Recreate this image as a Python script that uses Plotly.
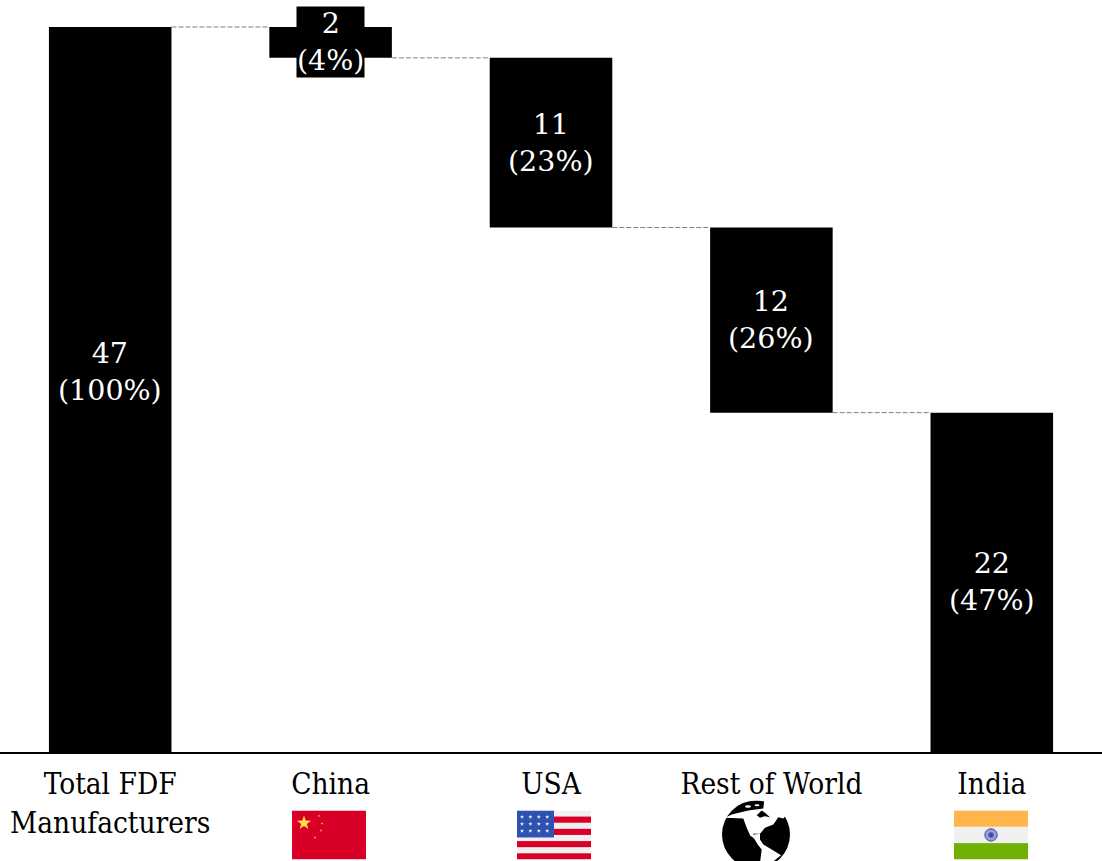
import base64
import math
import plotly.graph_objects as go

# Data
categories = ["Total FDF<br>Manufacturers", "China", "USA", "Rest of World", "India"]
values = [47, 2, 11, 12, 22]
shares = [100, 4, 23, 26, 47]
total = values[0]

# Hanging positions derived from the data
bases = [0]
running = total
for v in values[1:]:
    running -= v
    bases.append(running)
tops = [b + v for b, v in zip(bases, values)]
positions = list(range(len(categories)))
BAR_W = 0.556
TICK_FONT = "DejaVu Serif Condensed, DejaVu Serif"
LABEL_FONT = "DejaVu Serif"


def uri(svg):
    return "data:image/svg+xml;base64," + base64.b64encode(svg.encode()).decode()


def star(cx, cy, r, fill):
    pts = []
    for i in range(10):
        a = -math.pi / 2 + i * math.pi / 5
        rr = r if i % 2 == 0 else r * 0.4
        pts.append(f"{cx + rr * math.cos(a):.2f},{cy + rr * math.sin(a):.2f}")
    return f'<polygon points="{" ".join(pts)}" fill="{fill}"/>'


china = ('<svg xmlns="http://www.w3.org/2000/svg" width="74" height="49" viewBox="0 0 74 49">'
         '<rect width="74" height="49" fill="#d80027"/>'
         + star(12, 12.5, 7.5, "#ffda44") + star(27, 5.5, 1.3, "#ffda44") + star(30, 13, 1.3, "#ffda44")
         + star(29, 20, 1.3, "#ffda44") + star(23, 27, 1.3, "#ffda44") + '</svg>')

usa_parts = ['<svg xmlns="http://www.w3.org/2000/svg" width="74" height="49" viewBox="0 0 74 49">',
             '<rect width="74" height="49" fill="#f0f0f0"/>']
for i in range(1, 8, 2):
    usa_parts.append(f'<rect y="{i * 6.125:.2f}" width="74" height="6.125" fill="#d80027"/>')
usa_parts.append('<rect width="37" height="27" fill="#2e52b2"/>')
for r in range(3):
    for c in range(4):
        usa_parts.append(star(5 + c * 8.4, 6.5 + r * 7, 2.2, "#f0f0f0"))
usa_parts.append('</svg>')
usa = "".join(usa_parts)

india = ('<svg xmlns="http://www.w3.org/2000/svg" width="74" height="49" viewBox="0 0 74 49">'
         '<rect width="74" height="49" fill="#f0f0f0"/>'
         '<rect width="74" height="16.3" fill="#ffb549"/>'
         '<rect y="32.7" width="74" height="16.3" fill="#6fb000"/>'
         '<circle cx="37" cy="24.5" r="6.2" fill="#9a9ad8" stroke="#3f4fa0" stroke-width="1"/>'
         '<circle cx="37" cy="24.5" r="2.6" fill="#3f4fa0"/></svg>')

globe = ('<svg xmlns="http://www.w3.org/2000/svg" width="68" height="68" viewBox="0 0 68 68">'
         '<circle cx="34" cy="34" r="34" fill="#000"/>'
         '<path d="M3 17.3 L21.3 18 L24.7 27.3 L28 34.7 L32.3 37.3 L31.3 33.3 L38 33.3 L43 27.3 L51.3 24 L56.3 16.7 '
         'L61.3 18 L71 7.3 L43 -6 L41.3 8 L26.3 10 L9.7 14 Z" fill="#fff"/>'
         '<path d="M28 34.7 L32.3 38.3 L35.7 44 L39.7 49 L38 62.3 L43 65.7 L49.7 62.3 L59 54.7 L49.7 49 L41.3 44 '
         'L38 39 L38 33.3 Z" fill="#fff"/>'
         '<path d="M34.7 14.7 L39.7 10 L43 12.3 L48 16.7 L43 15.7 L38 17.3 Z" fill="#000"/>'
         '<ellipse cx="26" cy="6" rx="3" ry="1.3" fill="#fff"/>'
         '<ellipse cx="35" cy="4.7" rx="2.5" ry="1" fill="#fff"/>'
         '</svg>')

fig = go.Figure()
fig.add_trace(go.Bar(x=positions, y=values, base=bases, width=BAR_W,
                     marker=dict(color="#000000", line=dict(width=0)),
                     hoverinfo="skip", showlegend=False))

# Connector lines between neighbouring bars
for i in range(len(values) - 1):
    level = bases[i] if i > 0 else tops[0]
    fig.add_trace(go.Scatter(x=[positions[i] + BAR_W / 2, positions[i + 1] - BAR_W / 2],
                             y=[level, level], mode="lines",
                             line=dict(color="#7f7f7f", width=1, dash="5px,2px"),
                             hoverinfo="skip", showlegend=False))

annotations = []
for i, (v, s) in enumerate(zip(values, shares)):
    annotations.append(dict(x=positions[i], y=bases[i] + v / 2, text=f"{v}<br>({s}%)", showarrow=False,
                            font=dict(color="#ffffff", size=28.5, family=LABEL_FONT),
                            bgcolor="#000000", align="center", borderpad=0,
                            yshift=18 if i == 0 else 0))

flag_spec = [(china, 292, 811, 74, 49), (usa, 517, 811, 74, 49), (india, 954, 811, 74, 49), (globe, 722, 801, 68, 68)]
W, H = 1102, 861
BOTTOM = 108.5
plot_h = H - BOTTOM
images = []
for svg, x, y, w, h in flag_spec:
    images.append(dict(source=uri(svg), xref="paper", yref="paper", x=x / W, y=(plot_h - y) / plot_h,
                       sizex=w / W, sizey=h / plot_h, xanchor="left", yanchor="top",
                       sizing="stretch", layer="above"))

fig.update_layout(
    width=W, height=H, margin=dict(l=0, r=0, t=0, b=BOTTOM),
    plot_bgcolor="#ffffff", paper_bgcolor="#ffffff",
    annotations=annotations, images=images,
    font=dict(family=TICK_FONT, size=29.5, color="#000000"),
    xaxis=dict(range=[-0.5, 4.5], tickmode="array", tickvals=positions, ticktext=categories,
               showgrid=False, zeroline=False, showline=True, linecolor="#000000", linewidth=2,
               ticks="", tickangle=0, ticklabelstandoff=5,
               tickfont=dict(family=TICK_FONT, size=29.5, color="#000000")),
    yaxis=dict(range=[0, 48.75], visible=False, showgrid=False, zeroline=False),
)
fig.write_html("out.html", config={"displayModeBar": False},
               post_script="document.body.style.margin='0';document.documentElement.style.overflow='hidden';")
